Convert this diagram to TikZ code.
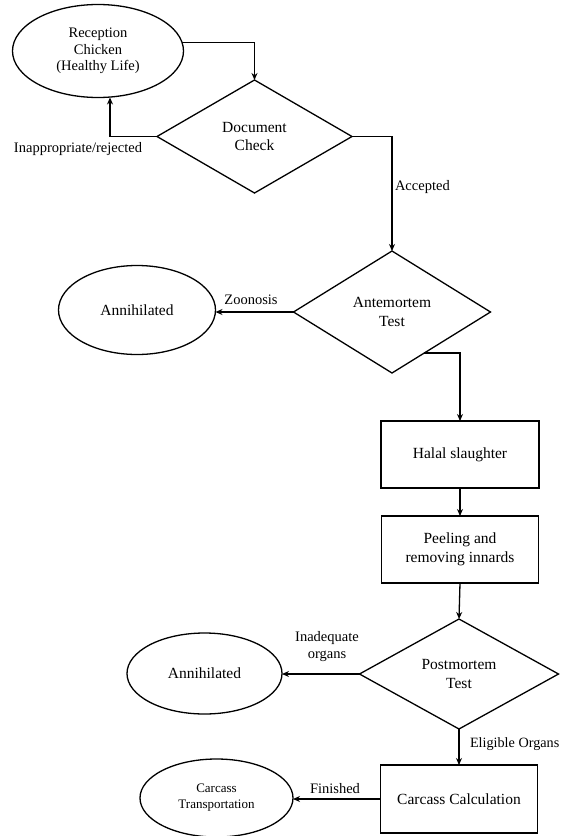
\documentclass[tikz,border=0pt]{standalone}
\usepackage{fontspec}
\setmainfont{Liberation Serif}
\usetikzlibrary{shapes.geometric,arrows.meta}
\begin{document}
\begin{tikzpicture}[x=1pt,y=-1pt,
  line width=1.3pt,
  every node/.style={inner sep=0pt, outer sep=0pt},
  txt/.style={font=\fontsize{15.5}{18.5}\selectfont, align=center},
  lbl/.style={font=\fontsize{14.5}{17}\selectfont, align=center},
  oval/.style={draw, ellipse, txt},
  dia/.style={draw, diamond, aspect=1.7, txt},
  boxn/.style={draw, rectangle, txt},
  arr/.style={-{Stealth[length=7pt,width=6pt]}}
]
\useasboundingbox (0,0) rectangle (562,836);
% nodes
\node[oval, minimum width=171pt, minimum height=93pt,
      font=\fontsize{14.5}{16.5}\selectfont] (rec) at (98,51) {Reception\\Chicken\\(Healthy Life)};
\node[dia, minimum width=195pt, minimum height=113pt] (doc) at (254.5,136.5) {Document\\Check};
\node[dia, minimum width=197pt, minimum height=122pt] (ant) at (392,312) {Antemortem\\Test};
\node[oval, minimum width=157pt, minimum height=89pt] (ann1) at (137,310) {Annihilated};
\node[boxn, minimum width=158pt, minimum height=67pt] (halal) at (460,454.5) {Halal slaughter};
\node[boxn, minimum width=157pt, minimum height=67pt] (peel) at (460,549.5) {Peeling and\\removing innards};
\node[dia, minimum width=199pt, minimum height=110pt] (post) at (459,674) {Postmortem\\Test};
\node[oval, minimum width=155pt, minimum height=81pt] (ann2) at (204.5,673.5) {Annihilated};
\node[boxn, minimum width=157pt, minimum height=68pt] (calc) at (459,799) {Carcass Calculation};
\node[oval, minimum width=153pt, minimum height=78pt,
      font=\fontsize{13}{16}\selectfont] (trans) at (216.5,798) {Carcass\\Transportation};
% labels
\node[lbl] (lrej) at (78,149) {Inappropriate/rejected};
\node[lbl, anchor=west] (lacc) at (395,187) {Accepted};
\node[lbl] (lzoo) at (251,300) {Zoonosis};
\node[lbl] (linad) at (327,647) {Inadequate\\organs};
\node[lbl, anchor=west, font=\fontsize{14.2}{17}\selectfont] (lelig) at (470,744) {Eligible Organs};
\node[lbl] (lfin) at (335,789) {Finished};
% connectors
\draw[arr] (rec.6) -| (doc.north);
\draw[arr] (doc.west) -| ([xshift=12pt]rec.south);
\draw[arr] (doc.east) -| (ant.north);
\draw[arr] (ant.west) -- (ant.west -| ann1.east);
\draw[arr] (ant.-52) -| (halal.north);
\draw[arr] (halal.south) -- (peel.north);
\draw[arr] (peel.south) -- (post.north);
\draw[arr] (post.west) -- (post.west -| ann2.east);
\draw[arr] (post.south) -- (calc.north);
\draw[arr] (calc.west) -- (calc.west -| trans.east);
\end{tikzpicture}
\end{document}
